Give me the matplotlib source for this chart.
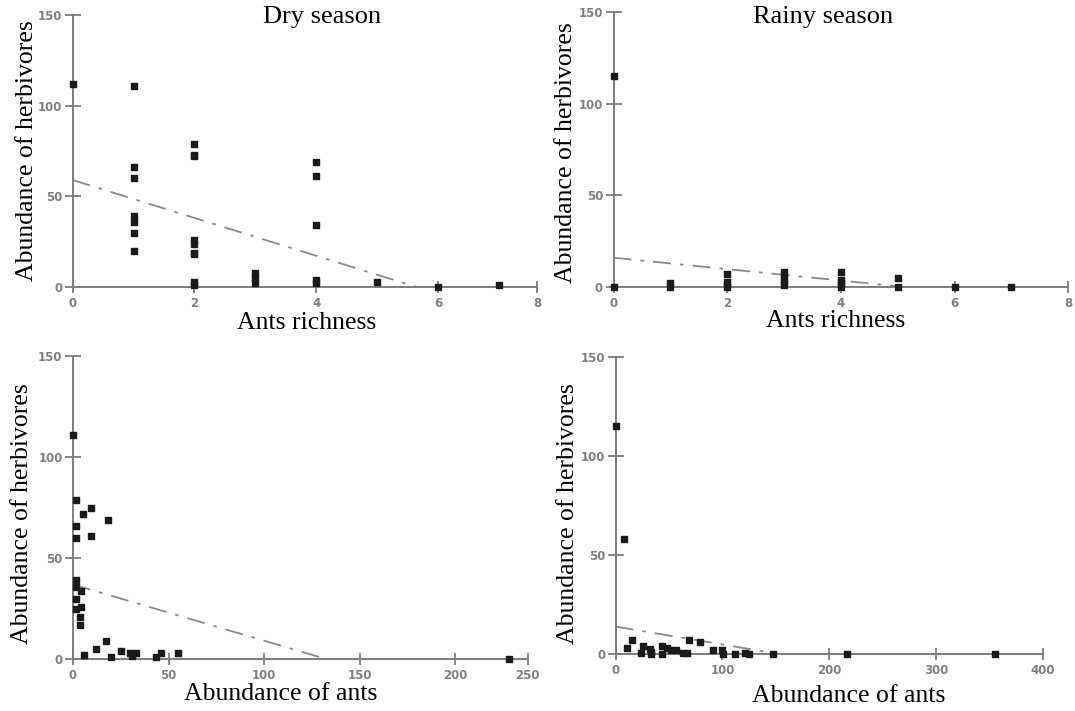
import matplotlib
matplotlib.use("Agg")
import matplotlib.pyplot as plt

# Dry season: herbivore abundance vs ant richness
dry_rich_x = [0, 1, 1, 1, 1, 1, 1, 1, 2, 2, 2, 2, 2, 2, 2, 2, 2,
              3, 3, 3, 4, 4, 4, 4, 4, 5, 6, 7]
dry_rich_y = [112, 111, 66, 60, 39, 36, 30, 20, 79, 73, 72, 26, 24, 19, 18, 3, 1,
              8, 5, 2, 69, 61, 34, 4, 2, 3, 0, 1]
dry_rich_fit = ([0, 5.65], [59, 0])

# Rainy season: herbivore abundance vs ant richness
rainy_rich_x = [0, 0, 1, 1, 2, 2, 2, 2, 3, 3, 3, 3, 4, 4, 4, 4, 5, 5, 6, 7]
rainy_rich_y = [115, 0, 2, 0, 7, 3, 1, 0, 8, 5, 3, 1, 8, 4, 2, 0, 5, 0, 0, 0]
rainy_rich_fit = ([0, 5.13], [16, 0])

# Dry season: herbivore abundance vs ant abundance
dry_abund_x = [0, 1.7, 1.4, 1.7, 5.2, 9.3, 9.3, 18.3, 1.7, 1.4, 4.2, 1.4, 4.2, 1.7,
               3.8, 3.8, 5.9, 11.8, 17.3, 20.1, 24.9, 29.8, 32.9, 30.8, 43.6, 46, 54.7, 228]
dry_abund_y = [111, 79, 66, 60, 72, 75, 61, 69, 39, 36, 34, 30, 26, 25,
               21, 17, 2, 5, 9, 1, 4, 3, 3, 1.5, 1, 3, 3, 0]
dry_abund_fit = ([0, 133], [37, 0])

# Rainy season: herbivore abundance vs ant abundance
rainy_abund_x = [0, 8.2, 15, 10.3, 23.4, 25.9, 32, 33.6, 33.6, 43.9, 43.9, 47.7, 52.3, 57,
                 63.2, 67, 68.8, 79.4, 91.3, 100, 101, 111.5, 121, 125, 147, 217, 354.6]
rainy_abund_y = [115, 58, 7.2, 3.4, 0.5, 4.2, 2.5, 1.3, 0, 4.2, 0, 3, 2.2, 2.2,
                 0.5, 0.5, 7.2, 6, 2.2, 2.2, 0, 0, 0.5, 0, 0, 0, 0]
rainy_abund_fit = ([0, 155], [14, 0])

# tick positions / labels (left column axes have a compressed last interval)
rich_ticks_dry = [0, 2, 4, 6, 7.63]
rich_ticks_rainy = [0, 2, 4, 6, 8]
rich_labels = ["0", "2", "4", "6", "8"]
abund_ticks_dry = [0, 50, 100, 150, 200, 237.8]
abund_labels_dry = ["0", "50", "100", "150", "200", "250"]
abund_ticks_rainy = [0, 100, 200, 300, 400]
abund_labels_rainy = ["0", "100", "200", "300", "400"]
y_ticks = [0, 50, 100, 150]

serif = ["Liberation Serif", "DejaVu Serif"]
axis_grey = "#7d7d7d"
rect = [(-1, -0.8), (1, -0.8), (1, 0.8), (-1, 0.8), (-1, -0.8)]

fig = plt.figure(figsize=(10.75, 7.11), dpi=100)

panels = [
    # rect, x, y, fit, ticks, labels, xlabel, ylabel coords, xlabel coords
    ([0.0676, 0.5963, 0.4322, 0.3826], dry_rich_x, dry_rich_y, dry_rich_fit,
     rich_ticks_dry, rich_labels, "Ants richness", (-0.075, 0.5), (0.504, -0.09)),
    ([0.5707, 0.5963, 0.4231, 0.3868], rainy_rich_x, rainy_rich_y, rainy_rich_fit,
     rich_ticks_rainy, rich_labels, "Ants richness", (-0.080, 0.49), (0.489, -0.082)),
    ([0.0679, 0.0727, 0.4230, 0.4266], dry_abund_x, dry_abund_y, dry_abund_fit,
     abund_ticks_dry, abund_labels_dry, "Abundance of ants", (-0.088, 0.48), (0.457, -0.077)),
    ([0.5726, 0.0797, 0.3977, 0.4181], rainy_abund_x, rainy_abund_y, rainy_abund_fit,
     abund_ticks_rainy, abund_labels_rainy, "Abundance of ants", (-0.085, 0.475), (0.546, -0.102)),
]

for rect_pos, xs, ys, fit, ticks, labels, xlab, ylab_pos, xlab_pos in panels:
    ax = fig.add_axes(rect_pos)
    ax.plot(fit[0], fit[1], color="#8a8a8a", linewidth=1.3,
            linestyle=(0, (10, 5, 2, 5)), zorder=2)
    ax.plot(xs, ys, linestyle="none", marker=rect, markersize=4.6,
            color="#1a1a1a", clip_on=False, zorder=4)

    ax.set_xlim(ticks[0], ticks[-1])
    ax.set_ylim(0, 150)
    ax.set_xticks(ticks, labels=labels)
    ax.set_yticks(y_ticks)

    for side in ["top", "right"]:
        ax.spines[side].set_visible(False)
    for side in ["left", "bottom"]:
        ax.spines[side].set_color(axis_grey)
        ax.spines[side].set_linewidth(1.4)

    ax.tick_params(axis="x", direction="inout", length=9, width=1.3, color=axis_grey,
                   labelsize=8.5, labelcolor="#808080", pad=2.5)
    ax.tick_params(axis="y", direction="inout", length=11, width=1.3, color=axis_grey,
                   labelsize=8.5, labelcolor="#808080", pad=2)
    for t in ax.get_xticklabels() + ax.get_yticklabels():
        t.set_fontweight("bold")

    ax.set_xlabel(xlab, fontsize=18.5, family=serif)
    ax.set_ylabel("Abundance of herbivores", fontsize=18.5, family=serif)
    ax.xaxis.set_label_coords(*xlab_pos)
    ax.yaxis.set_label_coords(*ylab_pos)

fig.text(322 / 1075, 1 - 17 / 711, "Dry season", fontsize=19, family=serif,
         ha="center", va="center")
fig.text(823 / 1075, 1 - 17 / 711, "Rainy season", fontsize=19, family=serif,
         ha="center", va="center")

fig.savefig("out.png", dpi=100)
